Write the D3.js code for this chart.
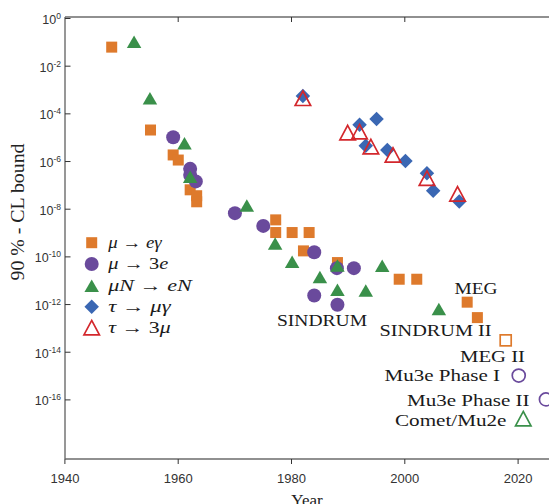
<!DOCTYPE html>
<html>
<head>
<meta charset="utf-8">
<script src="https://cdn.jsdelivr.net/npm/d3@7"></script>
<style>
  html, body { margin: 0; padding: 0; background: #fff; }
  svg { display: block; }
</style>
</head>
<body>
<svg id="chart" width="549" height="504"></svg>
<script>
// ---------------- data ----------------
const muEgYears   = [1948.35, 1955.2, 1959.2, 1960.1, 1962.2, 1963.35, 1963.35, 1977.3, 1977.3, 1980.2, 1983.2, 1982.2, 1988.2, 1999.1, 2002.2, 2011.1, 2012.9];
const muEgBounds  = [6.0e-2, 2.0e-5, 1.8e-6, 1.1e-6, 6.2e-8, 3.5e-8, 1.95e-8, 3.4e-9, 1.0e-9, 1.0e-9, 1.0e-9, 1.7e-10, 5.5e-11, 1.1e-11, 1.1e-11, 1.2e-12, 2.7e-13];

const mu3eYears   = [1959.2, 1962.2, 1962.2, 1963.2, 1970.1, 1975.1, 1984.1, 1988.1, 1991.1, 1984.1, 1988.2];
const mu3eBounds  = [1.0e-5, 4.7e-7, 2.6e-7, 1.4e-7, 6.5e-9, 1.9e-9, 1.5e-10, 3.2e-11, 3.2e-11, 2.3e-12, 9.3e-13];

const muNeNYears  = [1952.3, 1955.1, 1961.2, 1962.2, 1972.2, 1977.2, 1980.2, 1985.1, 1988.2, 1988.2, 1993.2, 1996.1, 2006.1];
const muNeNBounds = [1.0e-1, 4.3e-4, 5.6e-6, 2.2e-7, 1.35e-8, 3.5e-10, 6.0e-11, 1.35e-11, 4.1e-11, 4.0e-12, 3.7e-12, 4.0e-11, 6.2e-13];

const tauMgYears  = [1982.1, 1992.1, 1995.1, 1993.2, 1997.0, 2000.2, 2004.0, 2005.1, 2009.7];
const tauMgBounds = [5.4e-4, 3.3e-5, 5.8e-5, 4.4e-6, 2.9e-6, 1.0e-6, 3.1e-7, 5.7e-8, 2.0e-8];

const tau3muYears  = [1982.1, 1990.0, 1992.1, 1994.1, 1998.0, 2004.0, 2009.4];
const tau3muBounds = [4.3e-4, 1.55e-5, 1.7e-5, 4.0e-6, 1.8e-6, 1.9e-7, 4.2e-8];

// projected sensitivities (open markers)
const futureNames  = ["MEG II", "Mu3e Phase I", "Mu3e Phase II", "Comet/Mu2e"];
const futureYears  = [2017.9, 2020.2, 2025.0, 2021.0];
const futureBounds = [3.0e-14, 1.0e-15, 1.0e-16, 1.55e-17];
const futureKinds  = ["square", "circle", "circle", "triangle"];

// experiment annotations
const annotationTexts = ["SINDRUM", "SINDRUM II", "MEG", "MEG II", "Mu3e Phase I", "Mu3e Phase II", "Comet/Mu2e"];

const xTickValues = [1940, 1960, 1980, 2000, 2020];
const yTickExponents = [0, -2, -4, -6, -8, -10, -12, -14, -16];

// ---------------- layout / style ----------------
const colors = { orange: "#DE7A2C", purple: "#6A4A9C", green: "#3A904A", blue: "#3A67B3", red: "#D3272C" };
const axisColor = "#6b6b6b";
const svg = d3.select("#chart");

const x = d3.scaleLinear().domain([1940, 2030]).range([64.4, 64.4 + 90 * 5.665]);
const y = d3.scaleLog().domain([Math.pow(10, -18.5), 1]).range([459, 18]);

const frameL = 65, frameT = 17, frameB = 459, frameR = 549;

// frame lines
svg.append("line").attr("x1", frameL).attr("x2", frameL).attr("y1", frameT).attr("y2", frameB)
  .attr("stroke", axisColor).attr("stroke-width", 1.4);
svg.append("line").attr("x1", frameL).attr("x2", frameR).attr("y1", frameB).attr("y2", frameB)
  .attr("stroke", axisColor).attr("stroke-width", 1.4);
svg.append("line").attr("x1", frameL).attr("x2", frameR).attr("y1", frameT).attr("y2", frameT)
  .attr("stroke", axisColor).attr("stroke-width", 1.4);

// y ticks (inward) and labels
const yAxis = d3.axisLeft(y).tickValues(yTickExponents.map(e => Math.pow(10, e)))
  .tickSize(-5.5).tickFormat("");
const gy = svg.append("g").attr("transform", `translate(${frameL},0)`).call(yAxis);
gy.select(".domain").remove();
gy.selectAll(".tick line").attr("stroke", "#333").attr("stroke-width", 1);

const yLab = svg.append("g");
yTickExponents.forEach(e => {
  const t = yLab.append("text")
    .attr("x", 61).attr("y", y(Math.pow(10, e)) + 6)
    .attr("text-anchor", "end")
    .attr("font-family", "Liberation Sans, Arial, sans-serif")
    .attr("font-size", 12.5).attr("fill", "#333");
  t.append("tspan").text("10");
  t.append("tspan").attr("font-size", 8.5).attr("dy", -5).text(e === 0 ? "0" : "-" + Math.abs(e));
});

// x ticks bottom (outward)
const xAxis = d3.axisBottom(x).tickValues(xTickValues).tickSize(5).tickFormat(d3.format("d"));
const gx = svg.append("g").attr("transform", `translate(0,${frameB})`).call(xAxis);
gx.select(".domain").remove();
gx.selectAll(".tick line").attr("stroke", "#333").attr("stroke-width", 1);
gx.selectAll(".tick text")
  .attr("font-family", "Liberation Sans, Arial, sans-serif")
  .attr("font-size", 13).attr("fill", "#333").attr("dy", null).attr("y", 24);

// top ticks (inward)
const xTop = d3.axisTop(x).tickValues([1960, 1980, 2000]).tickSize(-5).tickFormat("");
const gxt = svg.append("g").attr("transform", `translate(0,${frameT})`).call(xTop);
gxt.select(".domain").remove();
gxt.selectAll(".tick line").attr("stroke", "#333").attr("stroke-width", 1);

// axis titles
svg.append("text").attr("x", 307).attr("y", 506).attr("text-anchor", "middle")
  .attr("font-family", "Liberation Serif, serif").attr("font-size", 17).attr("fill", "#222")
  .text("Year");
svg.append("text").attr("transform", "translate(24,212) rotate(-90)").attr("text-anchor", "middle")
  .attr("font-family", "Liberation Serif, serif").attr("font-size", 18).attr("fill", "#222")
  .attr("textLength", 137).attr("lengthAdjust", "spacingAndGlyphs")
  .text("90 % - CL bound");

// ---------------- marker helpers ----------------
function triPath(w, h) {
  return `M0,${-h / 2}L${w / 2},${h / 2}L${-w / 2},${h / 2}Z`;
}
function diamondPath(d) {
  return `M0,${-d / 2}L${d / 2},0L0,${d / 2}L${-d / 2},0Z`;
}
function drawMarker(g, kind, cx, cy, color, open) {
  let el;
  if (kind === "square") {
    const s = 11;
    el = g.append("rect").attr("x", cx - s / 2).attr("y", cy - s / 2).attr("width", s).attr("height", s);
  } else if (kind === "circle") {
    el = g.append("circle").attr("cx", cx).attr("cy", cy).attr("r", open ? 6.5 : 7);
  } else if (kind === "triangle") {
    el = g.append("path").attr("transform", `translate(${cx},${cy})`)
      .attr("d", open ? triPath(15.5, 14.5) : triPath(14.5, 12.5));
  } else if (kind === "diamond") {
    el = g.append("path").attr("transform", `translate(${cx},${cy})`).attr("d", diamondPath(14.5));
  }
  if (open) el.attr("fill", "none").attr("stroke", color).attr("stroke-width", 1.7);
  else el.attr("fill", color).attr("stroke", "none");
  return el;
}

const series = [
  { years: muEgYears,   bounds: muEgBounds,   kind: "square",   color: colors.orange, open: false },
  { years: mu3eYears,   bounds: mu3eBounds,   kind: "circle",   color: colors.purple, open: false },
  { years: muNeNYears,  bounds: muNeNBounds,  kind: "triangle", color: colors.green,  open: false },
  { years: tauMgYears,  bounds: tauMgBounds,  kind: "diamond",  color: colors.blue,   open: false },
  { years: tau3muYears, bounds: tau3muBounds, kind: "triangle", color: colors.red,    open: true  }
];

const gPts = svg.append("g");
series.forEach(s => {
  s.years.forEach((yr, i) => drawMarker(gPts, s.kind, x(yr), y(s.bounds[i]), s.color, s.open));
});

// future projections
const futureColors = [colors.orange, colors.purple, colors.purple, colors.green];
futureYears.forEach((yr, i) => {
  drawMarker(gPts, futureKinds[i], x(yr), y(futureBounds[i]), futureColors[i], true);
});

// ---------------- annotations ----------------
const annLayout = [
  { x: 277, y: 326, w: 90 },
  { x: 379.5, y: 335.5, w: 112 },
  { x: 454.5, y: 293.5, w: 43 },
  { x: 460, y: 362, w: 65 },
  { x: 384.5, y: 381, w: 115.5 },
  { x: 407, y: 405.5, w: 122.5 },
  { x: 395, y: 426, w: 111.5 }
];
annotationTexts.forEach((t, i) => {
  const L = annLayout[i];
  svg.append("text").attr("x", L.x).attr("y", L.y)
    .attr("font-family", "Liberation Serif, serif").attr("font-size", 16).attr("fill", "#1a1a1a")
    .attr("textLength", L.w).attr("lengthAdjust", "spacingAndGlyphs")
    .text(t);
});

// ---------------- legend ----------------
const legendLabels = [
  [["μ", true], [" → ", false], ["eγ", true]],
  [["μ", true], [" → ", false], ["3", false], ["e", true]],
  [["μN", true], [" → ", false], ["eN", true]],
  [["τ", true], [" → ", false], ["μγ", true]],
  [["τ", true], [" → ", false], ["3", false], ["μ", true]]
];
const legendWidths = [53.4, 60, 83.4, 62.4, 62.4];
const legendRows = [242.7, 264, 285.7, 306.7, 327.7];
const gLeg = svg.append("g");
series.forEach((s, i) => {
  drawMarker(gLeg, s.kind, 91.7, legendRows[i], s.color, s.open);
  const t = gLeg.append("text").attr("x", 108.3).attr("y", legendRows[i] + 5)
    .attr("font-family", "Liberation Serif, serif").attr("font-size", 16.5).attr("fill", "#1a1a1a")
    .attr("textLength", legendWidths[i]).attr("lengthAdjust", "spacingAndGlyphs");
  legendLabels[i].forEach(([txt, it]) => {
    t.append("tspan").attr("font-style", it ? "italic" : "normal").text(txt);
  });
});
</script>
</body>
</html>
